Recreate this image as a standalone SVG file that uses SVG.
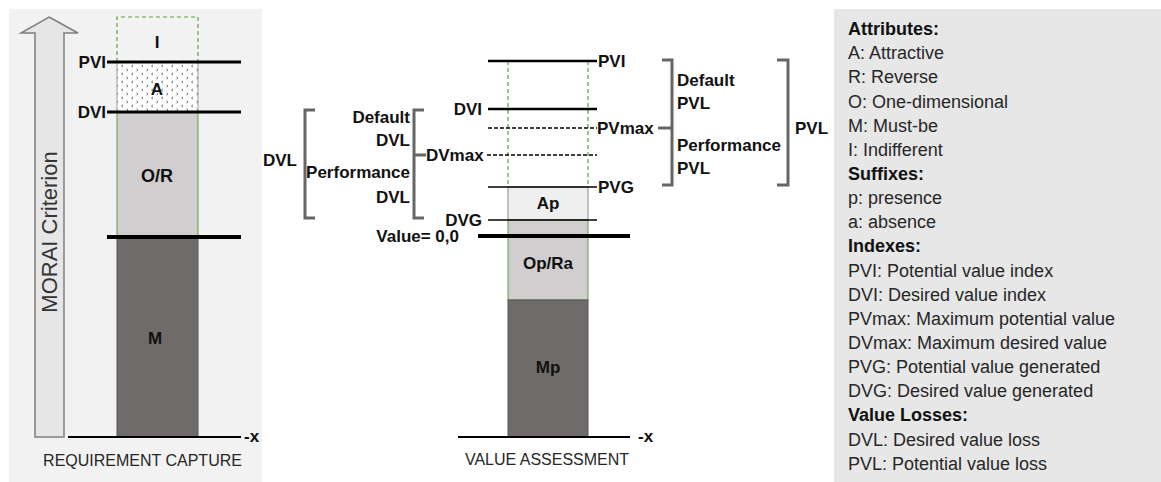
<svg xmlns="http://www.w3.org/2000/svg" width="1161" height="482" viewBox="0 0 1161 482">
<style>
.lb{font-family:"Liberation Sans",Arial,sans-serif;font-weight:bold;font-size:17px;fill:#111}
.lg{font-family:"Liberation Sans",Arial,sans-serif;font-size:18px;fill:#262626}
.lgb{font-family:"Liberation Sans",Arial,sans-serif;font-size:18px;font-weight:bold;fill:#111}
.cap{font-family:"Liberation Sans",Arial,sans-serif;font-size:16px;fill:#262626}
.ln{stroke:#000;fill:none}
.br{stroke:#666;stroke-width:3;fill:none}
.gd{stroke:#5e9e3c;stroke-width:1.2;stroke-dasharray:4,3;fill:none}
.mid{text-anchor:middle}
.end{text-anchor:end}
</style>
<defs>
<pattern id="pat" width="10" height="8" patternUnits="userSpaceOnUse">
<rect width="10" height="8" fill="#fff"/>
<path d="M3,0.8 L1.5,2 L3,3.2 M6.5,4.8 L8,6 L6.5,7.2" stroke="#555" stroke-width="0.8" fill="none"/>
</pattern>
</defs>
<rect x="9" y="9" width="253" height="473" fill="#f2f2f2"/>
<rect x="834" y="9" width="327" height="473" fill="#e7e7e7"/>

<g id="axis-arrow">
<path d="M49,17 L78,33 L64,33 L64,437 L35,437 L35,33 L21,33 Z" fill="#e6e6e6" stroke="#7f7f7f" stroke-width="1.5"/>
<text x="0" y="0" transform="translate(57,232) rotate(-90)" class="mid" style="font-family:'Liberation Sans',Arial,sans-serif;font-size:22px;fill:#333">MORAI Criterion</text>
</g>

<g id="req-capture">
<path d="M117,62 V17 H198 V62" class="gd"/>
<rect id="req-A" x="117" y="62" width="81" height="50" fill="url(#pat)" stroke="#999" stroke-width="1"/>
<rect id="req-OR" x="117" y="112" width="81" height="125" fill="#d0cece" stroke="#5e9e3c" stroke-width="1"/>
<rect id="req-M" x="117" y="237" width="81" height="200" fill="#706b6b" stroke="#555" stroke-width="1"/>
<text x="157" y="48" class="lb mid">I</text>
<text x="157" y="95" class="lb mid">A</text>
<text x="157" y="182" class="lb mid" style="font-size:18px">O/R</text>
<text x="155" y="344" class="lb mid">M</text>
<text x="106" y="68" class="lb end">PVI</text>
<text x="106" y="118" class="lb end">DVI</text>
<text x="244" y="442" class="lb">-x</text>
<text x="142.5" y="466" class="cap mid">REQUIREMENT CAPTURE</text>
</g>

<g id="value-assessment">
<rect id="va-Ap" x="508" y="187" width="80" height="33" fill="#efefef" stroke="#888" stroke-width="1"/>
<rect id="va-OpRa" x="508" y="220" width="80" height="80" fill="#d0cece" stroke="#5e9e3c" stroke-width="1"/>
<rect id="va-Mp" x="508" y="300" width="80" height="137" fill="#706b6b" stroke="#555" stroke-width="1"/>
<text x="548" y="209" class="lb mid">Ap</text>
<text x="548" y="269" class="lb mid">Op/Ra</text>
<text x="548" y="373" class="lb mid">Mp</text>
<text x="598" y="67" class="lb">PVI</text>
<text x="597" y="134" class="lb">PVmax</text>
<text x="598" y="193" class="lb">PVG</text>
<text x="482" y="115" class="lb end">DVI</text>
<text x="426" y="161" class="lb">DVmax</text>
<text x="482" y="226" class="lb end">DVG</text>
<text x="459" y="242" class="lb end">Value= 0,0</text>
<text x="638" y="442" class="lb">-x</text>
<text x="547" y="465" class="cap mid">VALUE ASSESSMENT</text>
</g>

<g id="dvl-labels">
<text x="263" y="166" class="lb">DVL</text>
<text x="410" y="123" class="lb end">Default</text>
<text x="410" y="146" class="lb end">DVL</text>
<text x="410" y="178" class="lb end">Performance</text>
<text x="410" y="203" class="lb end">DVL</text>
</g>

<g id="pvl-labels">
<text x="677" y="86" class="lb">Default</text>
<text x="677" y="109" class="lb">PVL</text>
<text x="677" y="151" class="lb">Performance</text>
<text x="677" y="174" class="lb">PVL</text>
<text x="795" y="134" class="lb">PVL</text>
</g>

<g id="legend">
<text x="848" y="35" class="lgb">Attributes:</text>
<text x="848" y="59.2" class="lg">A: Attractive</text>
<text x="848" y="83.3" class="lg">R: Reverse</text>
<text x="848" y="107.5" class="lg">O: One-dimensional</text>
<text x="848" y="131.6" class="lg">M: Must-be</text>
<text x="848" y="155.8" class="lg">I: Indifferent</text>
<text x="848" y="179.9" class="lgb">Suffixes:</text>
<text x="848" y="204.1" class="lg">p: presence</text>
<text x="848" y="228.2" class="lg">a: absence</text>
<text x="848" y="252.4" class="lgb">Indexes:</text>
<text x="848" y="276.5" class="lg">PVI: Potential value index</text>
<text x="848" y="300.7" class="lg">DVI: Desired value index</text>
<text x="848" y="324.8" class="lg">PVmax: Maximum potential value</text>
<text x="848" y="349" class="lg">DVmax: Maximum desired value</text>
<text x="848" y="373.1" class="lg">PVG: Potential value generated</text>
<text x="848" y="397.3" class="lg">DVG: Desired value generated</text>
<text x="848" y="421.4" class="lgb">Value Losses:</text>
<text x="848" y="445.6" class="lg">DVL: Desired value loss</text>
<text x="848" y="469.7" class="lg">PVL: Potential value loss</text>
</g>

<g id="connectors">
<line x1="107" y1="62" x2="241" y2="62" class="ln" stroke-width="3"/>
<line x1="107" y1="112" x2="241" y2="112" class="ln" stroke-width="3"/>
<line x1="107" y1="237" x2="241" y2="237" class="ln" stroke-width="4"/>
<line x1="68" y1="437" x2="241" y2="437" class="ln" stroke-width="2"/>
<line x1="508" y1="61" x2="508" y2="187" class="gd"/>
<line x1="588" y1="61" x2="588" y2="187" class="gd"/>
<line x1="488" y1="61" x2="597" y2="61" class="ln" stroke-width="2.5"/>
<line x1="488" y1="109" x2="597" y2="109" class="ln" stroke-width="2.5"/>
<line x1="488" y1="128" x2="597" y2="128" class="ln" stroke-width="1.5" stroke-dasharray="4,2"/>
<line x1="487" y1="155" x2="597" y2="155" class="ln" stroke-width="1.5" stroke-dasharray="4,2"/>
<line x1="488" y1="187" x2="597" y2="187" class="ln" stroke-width="1.5"/>
<line x1="488" y1="220" x2="597" y2="220" class="ln" stroke-width="1.5"/>
<line x1="478" y1="236" x2="630" y2="236" class="ln" stroke-width="4"/>
<line x1="458" y1="437" x2="630" y2="437" class="ln" stroke-width="2"/>
<path d="M315,110 H305 V218 H315" class="br"/>
<path d="M424,110 H414 V218 H424 M414,155 H426" class="br"/>
<path d="M662,60 H672 V185 H662 M658,128 H672" class="br"/>
<path d="M777,60 H788 V185 H777" class="br"/>
</g>
</svg>
